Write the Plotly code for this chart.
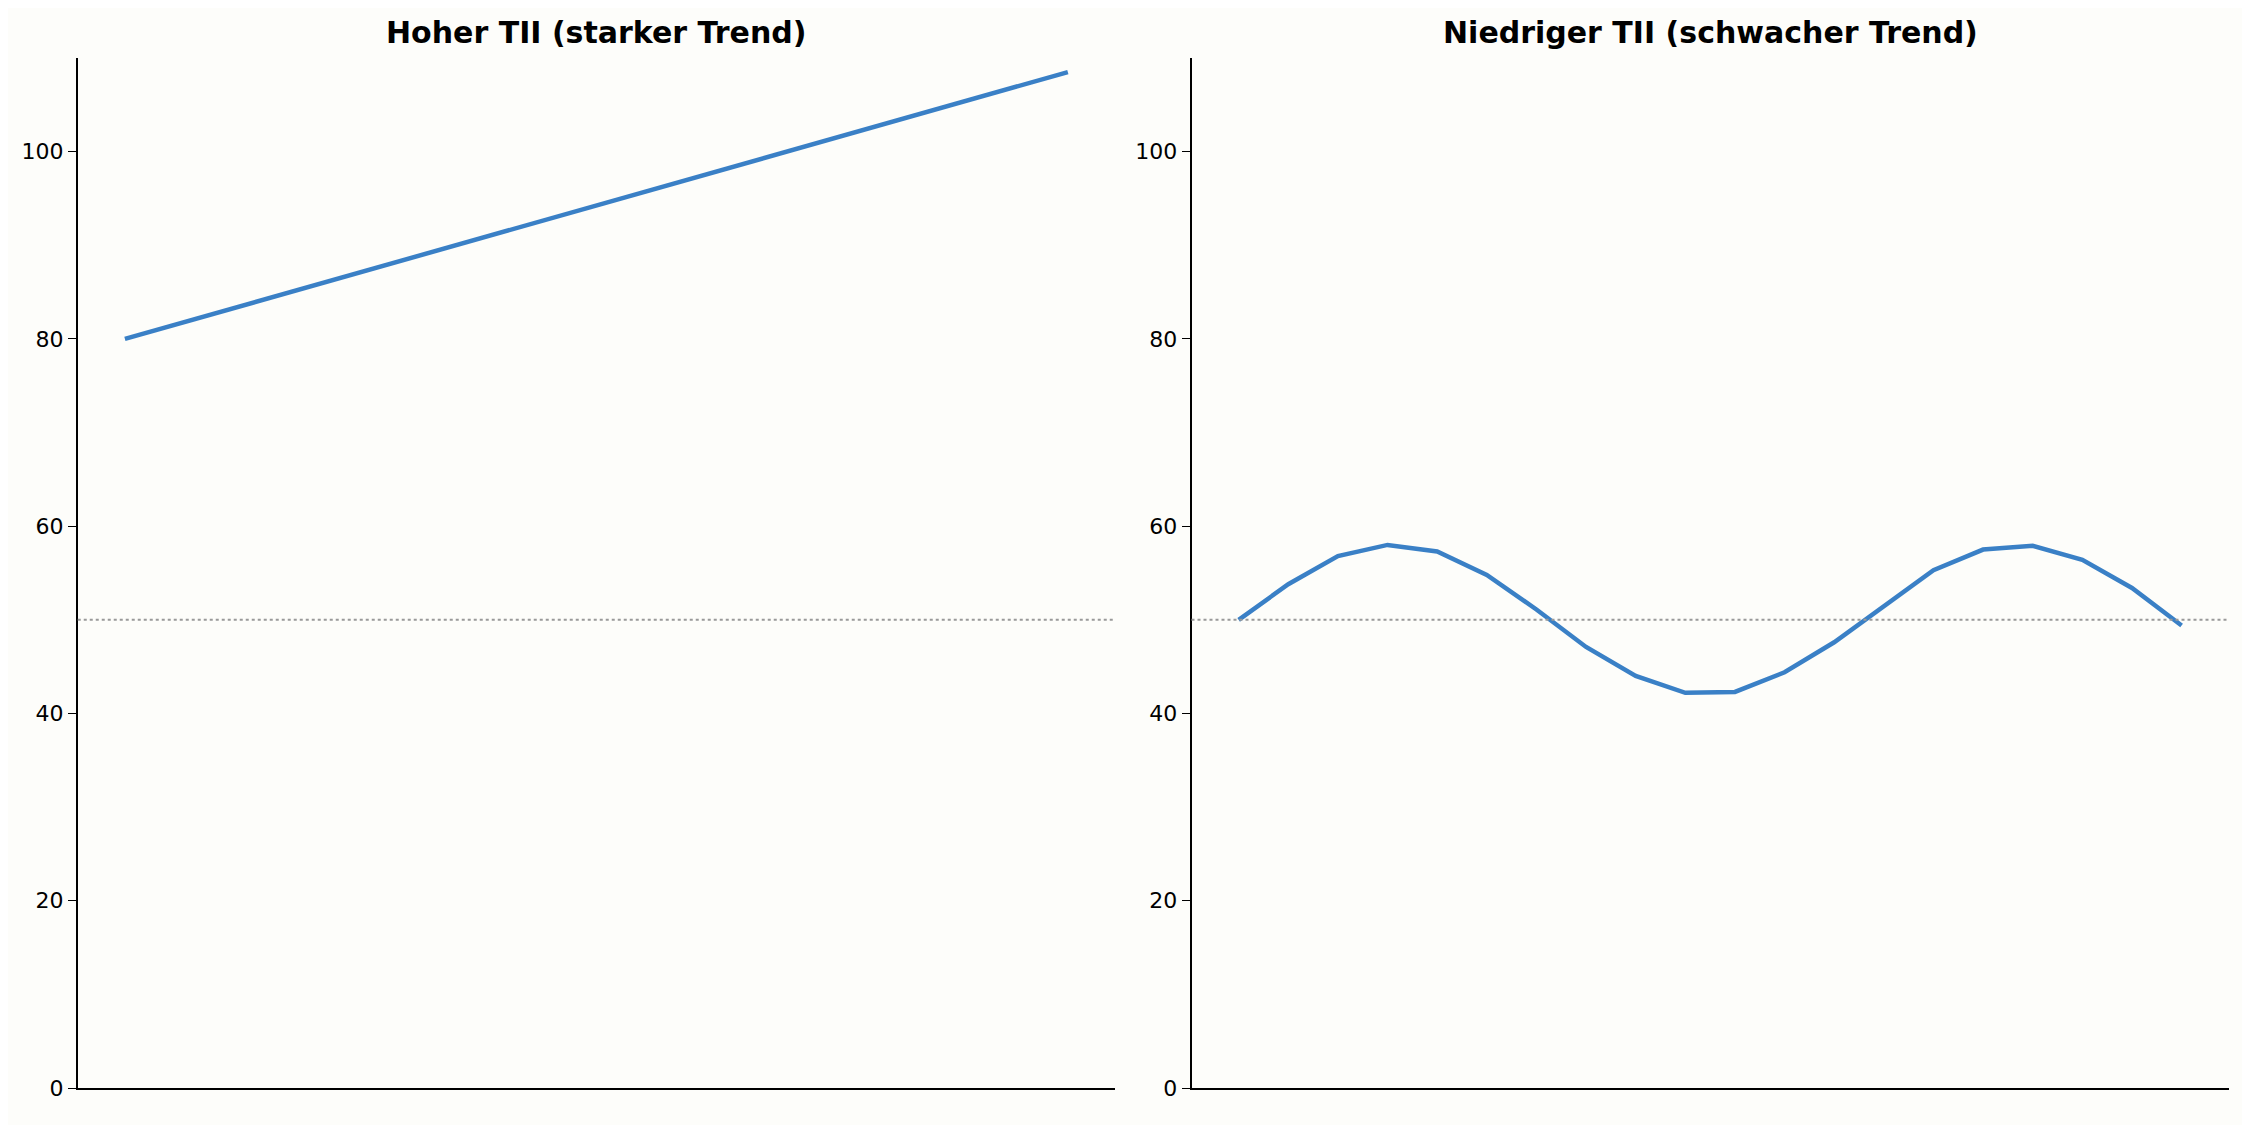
import plotly.graph_objects as go
from plotly.subplots import make_subplots

x = list(range(20))
high_tii = [80 + 1.5 * i for i in range(20)]
low_tii = [50, 53.8, 56.8, 58.0, 57.3, 54.8, 51.1, 47.1, 44.0, 42.2, 42.3, 44.4, 47.6, 51.5, 55.3, 57.5, 57.9, 56.4, 53.4, 49.4]
titles = ["Hoher TII (starker Trend)", "Niedriger TII (schwacher Trend)"]

fig = make_subplots(rows=1, cols=2, horizontal_spacing=0.034)
for i, ys in enumerate([high_tii, low_tii], start=1):
    fig.add_trace(go.Scatter(x=x, y=ys, mode="lines", line=dict(color="#3a80c6", width=4.5), showlegend=False), row=1, col=i)
    fig.add_hline(y=50, line=dict(color="#999999", width=2, dash="dot"), row=1, col=i)
    fig.update_xaxes(range=[-0.95, 19.95], showticklabels=False, ticks="", showgrid=False, zeroline=False,
                     showline=True, linecolor="black", linewidth=1.5, row=1, col=i)
    fig.update_yaxes(range=[0, 110], tickvals=[0, 20, 40, 60, 80, 100], ticks="outside", ticklen=8, tickcolor="black",
                     showgrid=False, zeroline=False, showline=True, linecolor="black", linewidth=1.5, row=1, col=i)

fig.layout.xaxis.domain = [0.031, 0.492]
fig.layout.xaxis2.domain = [0.526, 0.987]
for t, cx in zip(titles, [0.2615, 0.7565]):
    fig.add_annotation(text=f"<b>{t}</b>", x=cx, y=1.0, xref="paper", yref="paper", xanchor="center", yanchor="bottom",
                       yshift=6, showarrow=False, font=dict(size=30, color="black"))

fig.update_layout(width=2250, height=1125, paper_bgcolor="#fdfdfa", plot_bgcolor="#fdfdfa",
                  margin=dict(l=0, r=0, t=50, b=45),
                  font=dict(family="DejaVu Sans", size=22, color="black"))
fig.update_yaxes(domain=[0, 1])
fig.write_html("out.html")
